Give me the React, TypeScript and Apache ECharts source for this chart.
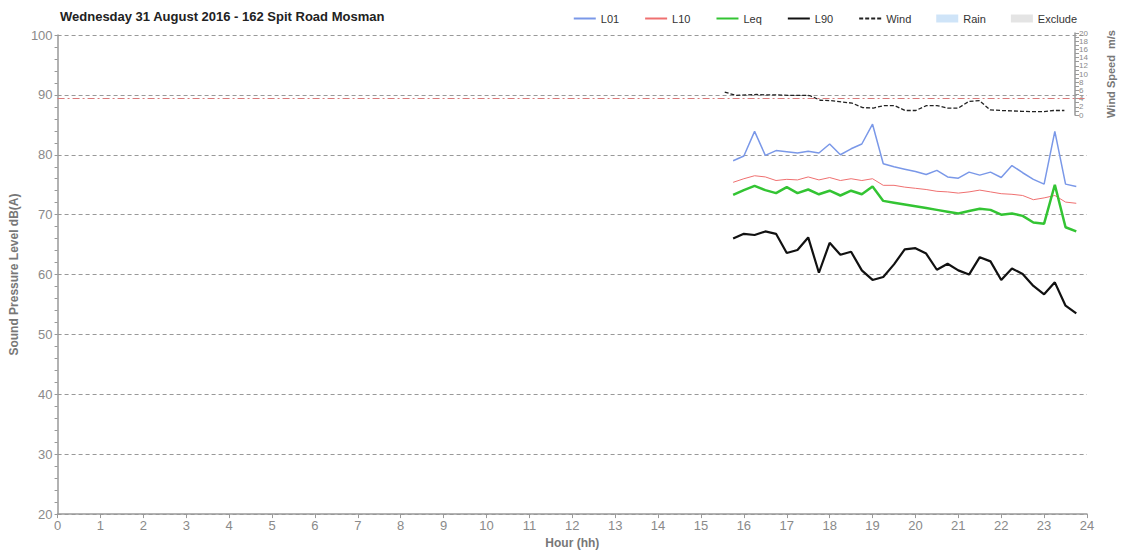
import React, { useEffect, useRef } from "react";
import * as echarts from "echarts";

const TITLE = "Wednesday 31 August 2016 - 162 Spit Road Mosman";

const times = [
  "15:45", "16:00", "16:15", "16:30", "16:45", "17:00", "17:15", "17:30", "17:45",
  "18:00", "18:15", "18:30", "18:45", "19:00", "19:15", "19:30", "19:45", "20:00",
  "20:15", "20:30", "20:45", "21:00", "21:15", "21:30", "21:45", "22:00", "22:15",
  "22:30", "22:45", "23:00", "23:15", "23:30", "23:45",
];

const L01 = [
  79.0, 79.8, 83.9, 79.9, 80.7, 80.5, 80.3, 80.6, 80.3, 81.8, 80.0, 81.0, 81.8, 85.1,
  78.5, 78.0, 77.6, 77.2, 76.7, 77.4, 76.3, 76.1, 77.1, 76.6, 77.1, 76.2, 78.2, 77.0,
  75.9, 75.1, 83.9, 75.1, 74.7,
];

const L10 = [
  75.4, 76.0, 76.5, 76.3, 75.7, 75.9, 75.8, 76.3, 75.8, 76.2, 75.7, 76.0, 75.7, 76.0,
  74.9, 74.9, 74.6, 74.4, 74.2, 73.9, 73.8, 73.6, 73.8, 74.1, 73.8, 73.5, 73.4, 73.2,
  72.5, 72.8, 73.2, 72.1, 71.9,
];

const Leq = [
  73.3, 74.1, 74.8, 74.1, 73.6, 74.6, 73.6, 74.2, 73.4, 74.0, 73.2, 74.0, 73.4, 74.7,
  72.3, 72.0, 71.7, 71.4, 71.1, 70.8, 70.5, 70.2, 70.6, 71.0, 70.8, 70.0, 70.2, 69.8,
  68.7, 68.5, 75.0, 67.9, 67.2,
];

const L90 = [
  66.0, 66.8, 66.6, 67.2, 66.8, 63.6, 64.1, 66.2, 60.3, 65.3, 63.3, 63.8, 60.7, 59.1,
  59.6, 61.7, 64.2, 64.4, 63.5, 60.8, 61.8, 60.7, 60.0, 62.9, 62.2, 59.1, 61.0, 60.1,
  58.1, 56.7, 58.7, 54.8, 53.5,
];

const wind = [
  5.6, 4.8, 4.9, 5.0, 4.9, 4.9, 4.8, 4.8, 4.75, 3.6, 3.5, 3.2, 2.9, 1.8,
  1.7, 2.3, 2.3, 1.1, 1.1, 2.3, 2.3, 1.7, 1.7, 3.3, 3.5, 1.25, 1.1, 1.0,
  0.9, 0.8, 0.8, 1.1, 1.1,
];

const criterionLevel = 89.5;

const toHour = (t: string) => {
  const [h, m] = t.split(":").map(Number);
  return h + m / 60;
};
const pair = (vals: number[]) => times.map((t, i) => [toHour(t), vals[i]]);

const FONT = "'Liberation Sans', Arial, sans-serif";
const GRAY = "#8a8a8a";
const hideSym = { color: "transparent", borderWidth: 0, opacity: 0 };

export default function App() {
  const ref = useRef<HTMLDivElement>(null);
  useEffect(() => {
    if (!ref.current) return;
    const chart = echarts.init(ref.current, undefined, { renderer: "svg" });
    chart.setOption({
      animation: false,
      backgroundColor: "#ffffff",
      textStyle: { fontFamily: FONT },
      title: {
        text: TITLE,
        left: 55,
        top: 5,
        textStyle: { fontSize: 13, fontWeight: "bold", color: "#222", fontFamily: FONT },
      },
      legend: {
        right: 42,
        top: 8,
        itemWidth: 22,
        itemHeight: 8,
        itemGap: 25,
        textStyle: { fontSize: 11, color: "#333", fontFamily: FONT },
        data: [
          { name: "L01", itemStyle: hideSym },
          { name: "L10", itemStyle: hideSym },
          { name: "Leq", itemStyle: hideSym },
          { name: "L90", itemStyle: hideSym },
          { name: "Wind", itemStyle: hideSym },
          { name: "Rain", icon: "rect" },
          { name: "Exclude", icon: "rect" },
        ],
      },
      grid: [
        { left: 56, right: 37, top: 35, bottom: 39 },
        { left: 56, right: 37, top: 33, height: 82 },
      ],
      xAxis: [
        {
          type: "value",
          gridIndex: 0,
          min: 0,
          max: 24,
          interval: 1,
          name: "Hour (hh)",
          nameLocation: "middle",
          nameGap: 20,
          nameTextStyle: { fontSize: 12, fontWeight: "bold", color: "#777", fontFamily: FONT },
          axisLine: { lineStyle: { color: "#999", width: 1.5 } },
          axisTick: { show: true, length: 4, lineStyle: { color: "#999" } },
          axisLabel: { fontSize: 13, color: GRAY, margin: 5, fontFamily: FONT },
          splitLine: { show: false },
        },
        {
          type: "value",
          gridIndex: 1,
          min: 0,
          max: 24,
          show: false,
        },
      ],
      yAxis: [
        {
          type: "value",
          gridIndex: 0,
          min: 20,
          max: 100,
          interval: 10,
          name: "Sound Pressure Level dB(A)",
          nameLocation: "middle",
          nameGap: 28,
          nameTextStyle: { fontSize: 12, fontWeight: "bold", color: "#777", fontFamily: FONT },
          axisLine: { show: true, onZero: false, lineStyle: { color: "#999", width: 1.5 } },
          axisTick: { show: true, length: 3, lineStyle: { color: "#999" } },
          minorTick: { show: true, splitNumber: 5, length: 3, lineStyle: { color: "#999" } },
          axisLabel: { fontSize: 13, color: GRAY, margin: 5, fontFamily: FONT },
          splitLine: { show: true, lineStyle: { color: "#999", type: [4, 3], width: 1 } },
        },
        {
          type: "value",
          gridIndex: 1,
          position: "right",
          min: 0,
          max: 20,
          interval: 1,
          name: "Wind Speed  m/s",
          nameLocation: "middle",
          nameGap: 30,
          nameRotate: 90,
          nameTextStyle: { fontSize: 11, fontWeight: "bold", color: "#777", fontFamily: FONT },
          axisLine: { show: true, onZero: false, lineStyle: { color: "#999", width: 1.5 } },
          axisTick: { show: true, length: 4, lineStyle: { color: "#999" } },
          axisLabel: {
            fontSize: 8,
            color: GRAY,
            margin: 4,
            fontFamily: FONT,
            formatter: (v: number) => (v % 2 === 0 ? String(v) : ""),
          },
          splitLine: { show: false },
        },
      ],
      series: [
        {
          name: "L01",
          type: "line",
          xAxisIndex: 0,
          yAxisIndex: 0,
          data: pair(L01),
          symbol: "none",
          color: "#7a98e8",
          lineStyle: { width: 1.5, color: "#7a98e8" },
          markLine: {
            silent: true,
            symbol: "none",
            label: { show: false },
            lineStyle: { color: "#d97b7b", type: [7, 3, 2, 3], width: 1 },
            data: [{ yAxis: criterionLevel }],
          },
        },
        {
          name: "L10",
          type: "line",
          xAxisIndex: 0,
          yAxisIndex: 0,
          data: pair(L10),
          symbol: "none",
          color: "#ef7070",
          lineStyle: { width: 1, color: "#ef7070" },
        },
        {
          name: "Leq",
          type: "line",
          xAxisIndex: 0,
          yAxisIndex: 0,
          data: pair(Leq),
          symbol: "none",
          color: "#33c433",
          lineStyle: { width: 2.5, color: "#33c433" },
        },
        {
          name: "L90",
          type: "line",
          xAxisIndex: 0,
          yAxisIndex: 0,
          data: pair(L90),
          symbol: "none",
          color: "#111111",
          lineStyle: { width: 2.2, color: "#111111" },
        },
        {
          name: "Wind",
          type: "line",
          xAxisIndex: 1,
          yAxisIndex: 1,
          data: pair(wind),
          symbol: "none",
          color: "#222222",
          lineStyle: { width: 1.3, color: "#222222", type: [4, 2] },
        },
        {
          name: "Rain",
          type: "bar",
          xAxisIndex: 0,
          yAxisIndex: 0,
          data: [],
          color: "#cfe4f8",
        },
        {
          name: "Exclude",
          type: "bar",
          xAxisIndex: 0,
          yAxisIndex: 0,
          data: [],
          color: "#e4e4e4",
        },
      ],
    });
    return () => chart.dispose();
  }, []);
  return (
    <div
      ref={ref}
      style={{ position: "fixed", left: 0, top: 0, width: 1124, height: 554 }}
    />
  );
}
